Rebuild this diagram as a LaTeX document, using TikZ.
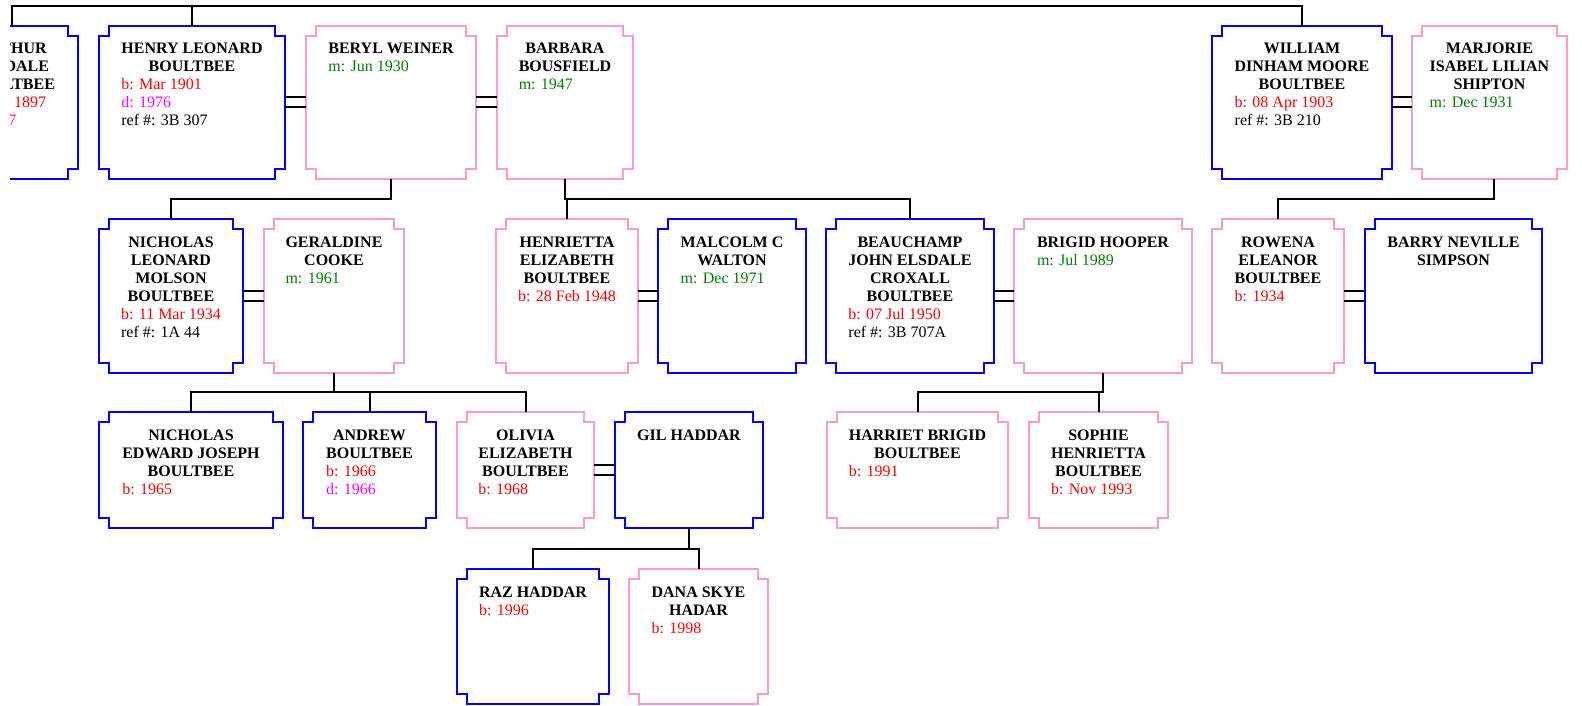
\documentclass[tikz,border=0pt]{standalone}
\usepackage{fontspec}
\setmainfont{Liberation Serif}
\usetikzlibrary{calc}
\definecolor{mblue}{RGB}{0,0,255}
\definecolor{fpink}{RGB}{255,153,204}
\definecolor{cbirth}{RGB}{255,0,0}
\definecolor{cdeath}{RGB}{255,0,255}
\definecolor{cmarr}{RGB}{0,128,0}
\tikzset{
  boxnode/.style={draw=none, inner sep=0pt, outer sep=0pt, rectangle},
  boxline/.style={line width=2pt, line join=miter},
  male/.style={boxline, draw=mblue},
  female/.style={boxline, draw=fpink},
  ptext/.style={inner sep=0pt, outer sep=0pt, font=\fontsize{16}{18}\selectfont},
  frag/.style={inner sep=0pt, outer sep=0pt, anchor=base east, font=\fontsize{16}{18}\selectfont},
  conn/.style={draw=black, line width=2pt},
}
\newcommand\notchbox[2]{%
  \draw[#2] ([yshift=-10pt]#1.north west) -- ([xshift=10pt,yshift=-10pt]#1.north west)
    -- ([xshift=10pt]#1.north west) -- ([xshift=-10pt]#1.north east)
    -- ([xshift=-10pt,yshift=-10pt]#1.north east) -- ([yshift=-10pt]#1.north east)
    -- ([yshift=10pt]#1.south east) -- ([xshift=-10pt,yshift=10pt]#1.south east)
    -- ([xshift=-10pt]#1.south east) -- ([xshift=10pt]#1.south west)
    -- ([xshift=10pt,yshift=10pt]#1.south west) -- ([yshift=10pt]#1.south west) -- cycle;}
\newcommand\person[7]{%
  \node[boxnode, minimum width=#5pt, minimum height=#6pt] (#1) at (#3,#4) {};
  \notchbox{#1}{#2}
  \node[ptext, anchor=base] (#1-t) at ([yshift=-28pt]#1.north)
    {\begin{tabular}[t]{@{}l@{}}#7\end{tabular}};}
\newcommand\nm[1]{\multicolumn{1}{@{}c@{}}{\bfseries #1}}
\newcommand\bb[1]{\textcolor{cbirth}{#1}}
\newcommand\dd[1]{\textcolor{cdeath}{#1}}
\newcommand\mm[1]{\textcolor{cmarr}{#1}}
\begin{document}
\begin{tikzpicture}[x=1pt, y=-1pt]
\useasboundingbox (0,0) rectangle (1582,706);
% ---- Arthur (clipped on the left)
\begin{scope}
\clip (10,0) rectangle (1582,706);
\node[boxnode, minimum width=132pt, minimum height=153pt] (arthur) at (12,102.5) {};
\notchbox{arthur}{male}
\node[frag, font=\fontsize{16}{18}\selectfont\bfseries] (arthur-1) at (46.7,54) {THUR};
\node[frag, font=\fontsize{16}{18}\selectfont\bfseries] (arthur-2) at (49,72) {DALE};
\node[frag, font=\fontsize{16}{18}\selectfont\bfseries] (arthur-3) at (55,90) {LTBEE};
\node[frag, text=cbirth] (arthur-4) at (46,108) {1897};
\node[frag, text=cdeath] (arthur-5) at (16.5,126) {7};
\end{scope}
% ---- Row 1
\person{henry}{male}{192}{102.5}{186}{153}{\nm{HENRY LEONARD}\\ \nm{BOULTBEE}\\ \bb{b: Mar 1901}\\ \dd{d: 1976}\\ ref \#: 3B 307}
\person{beryl}{female}{391}{102.5}{170}{153}{\nm{BERYL WEINER}\\ \mm{m: Jun 1930}}
\person{barbara}{female}{565}{102.5}{136}{153}{\nm{BARBARA}\\ \nm{BOUSFIELD}\\ \mm{m: 1947}}
\person{william}{male}{1302}{102.5}{180}{153}{\nm{WILLIAM}\\ \nm{DINHAM MOORE}\\ \nm{BOULTBEE}\\ \bb{b: 08 Apr 1903}\\ ref \#: 3B 210}
\person{marjorie}{female}{1489.5}{102.5}{155}{153}{\nm{MARJORIE}\\ \nm{ISABEL LILIAN}\\ \nm{SHIPTON}\\ \mm{m: Dec 1931}}
% ---- Row 2
\person{nicholasL}{male}{171}{296}{144}{154}{\nm{NICHOLAS}\\ \nm{LEONARD}\\ \nm{MOLSON}\\ \nm{BOULTBEE}\\ \bb{b: 11 Mar 1934}\\ ref \#: 1A 44}
\person{geraldine}{female}{334}{296}{140}{154}{\nm{GERALDINE}\\ \nm{COOKE}\\ \mm{m: 1961}}
\person{henrietta}{female}{567}{296}{142}{154}{\nm{HENRIETTA}\\ \nm{ELIZABETH}\\ \nm{BOULTBEE}\\ \bb{b: 28 Feb 1948}}
\person{malcolm}{male}{732}{296}{148}{154}{\nm{MALCOLM C}\\ \nm{WALTON}\\ \mm{m: Dec 1971}}
\person{beauchamp}{male}{910}{296}{168}{154}{\nm{BEAUCHAMP}\\ \nm{JOHN ELSDALE}\\ \nm{CROXALL}\\ \nm{BOULTBEE}\\ \bb{b: 07 Jul 1950}\\ ref \#: 3B 707A}
\person{brigid}{female}{1103}{296}{178}{154}{\nm{BRIGID HOOPER}\\ \mm{m: Jul 1989}}
\person{rowena}{female}{1278}{296}{132}{154}{\nm{ROWENA}\\ \nm{ELEANOR}\\ \nm{BOULTBEE}\\ \bb{b: 1934}}
\person{barry}{male}{1453.5}{296}{177}{154}{\nm{BARRY NEVILLE}\\ \nm{SIMPSON}}
% ---- Row 3
\person{nicholasE}{male}{191}{470}{184}{116}{\nm{NICHOLAS}\\ \nm{EDWARD JOSEPH}\\ \nm{BOULTBEE}\\ \bb{b: 1965}}
\person{andrew}{male}{369.5}{470}{133}{116}{\nm{ANDREW}\\ \nm{BOULTBEE}\\ \bb{b: 1966}\\ \dd{d: 1966}}
\person{olivia}{female}{525.5}{470}{137}{116}{\nm{OLIVIA}\\ \nm{ELIZABETH}\\ \nm{BOULTBEE}\\ \bb{b: 1968}}
\person{gil}{male}{689}{470}{148}{116}{\nm{GIL HADDAR}}
\person{harriet}{female}{917.5}{470}{181}{116}{\nm{HARRIET BRIGID}\\ \nm{BOULTBEE}\\ \bb{b: 1991}}
\person{sophie}{female}{1098.5}{470}{139}{116}{\nm{SOPHIE}\\ \nm{HENRIETTA}\\ \nm{BOULTBEE}\\ \bb{b: Nov 1993}}
% ---- Row 4
\person{raz}{male}{533}{636.5}{152}{135}{\nm{RAZ HADDAR}\\ \bb{b: 1996}}
\person{dana}{female}{698.5}{636.5}{139}{135}{\nm{DANA SKYE}\\ \nm{HADAR}\\ \bb{b: 1998}}
% ---- Marriage double lines
\foreach \a/\b in {henry/beryl, beryl/barbara, william/marjorie, nicholasL/geraldine, henrietta/malcolm, beauchamp/brigid, rowena/barry, olivia/gil}{
  \draw[conn] ([yshift=5pt]\a.east) -- ([yshift=5pt]\b.west);
  \draw[conn] ([yshift=-5pt]\a.east) -- ([yshift=-5pt]\b.west);
}
% ---- Descent lines
\draw[conn] (arthur.north) -- ++(0,-20) -| (william.north);
\draw[conn] (henry.north) -- ++(0,-20);
\draw[conn] (beryl.south) -- ++(0,20) -| (nicholasL.north);
\draw[conn] (barbara.south) -- ++(0,20) -| (henrietta.north);
\draw[conn] (barbara.south) -- ++(0,20) -| (beauchamp.north);
\draw[conn] ([xshift=4pt]marjorie.south) -- ++(0,20) -| (rowena.north);
\draw[conn] (geraldine.south) -- ++(0,19) -| (nicholasE.north);
\draw[conn] (geraldine.south) -- ++(0,19) -| (andrew.north);
\draw[conn] (geraldine.south) -- ++(0,19) -| (olivia.north);
\draw[conn] (brigid.south) -- ++(0,19) -| (harriet.north);
\draw[conn] (brigid.south) -- ++(0,19) -| (sophie.north);
\draw[conn] (gil.south) -- ++(0,21) -| (raz.north);
\draw[conn] (gil.south) -- ++(0,21) -| (dana.north);
\end{tikzpicture}
\end{document}
